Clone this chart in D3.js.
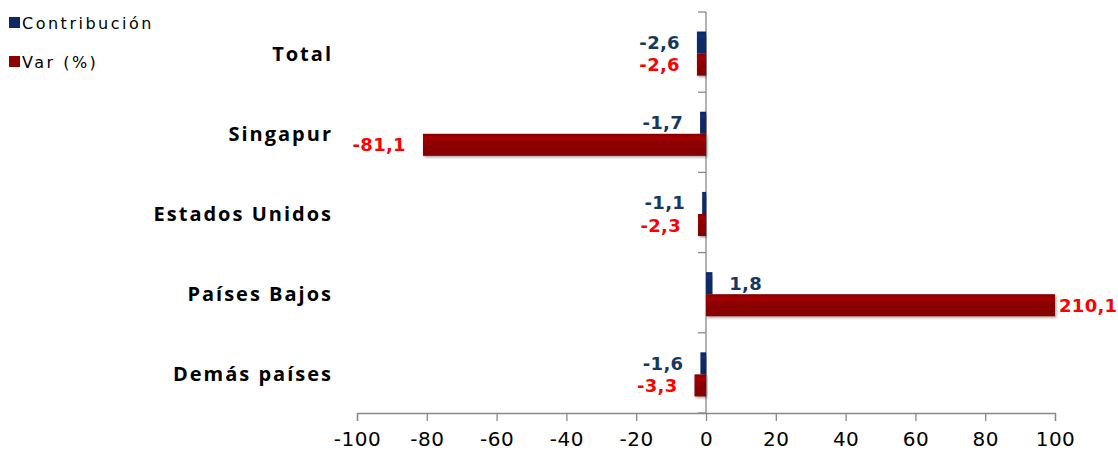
<!DOCTYPE html>
<html><head><meta charset="utf-8">
<script src="https://cdn.jsdelivr.net/npm/d3@7"></script>
<style>body{margin:0;background:#fff}svg{display:block}</style>
</head><body><svg id="c" width="1118" height="454"></svg>
<script>
const categories = ["Total","Singapur","Estados Unidos","Países Bajos","Demás países"];
const contribucion = [-2.6,-1.7,-1.1,1.8,-1.6];
const variacion = [-2.6,-81.1,-2.3,210.1,-3.3];
const seriesNames = ["Contribución","Var (%)"];
const tickValues = [-100,-80,-60,-40,-20,0,20,40,60,80,100];

const colors = {"Contribución":"#0d2a66","Var (%)":"#8c0000"};
const labelColors = {"Contribución":"#17375e","Var (%)":"#ff0000"};

const svg = d3.select("#c");
const defs = svg.append("defs");
function grad(id, c){
  const g = defs.append("linearGradient").attr("id",id).attr("x1",0).attr("y1",0).attr("x2",0).attr("y2",1);
  const base = d3.color(c);
  g.append("stop").attr("offset","0%").attr("stop-color",base.darker(0.3));
  g.append("stop").attr("offset","18%").attr("stop-color",base.brighter(0.5));
  g.append("stop").attr("offset","40%").attr("stop-color",base);
  g.append("stop").attr("offset","100%").attr("stop-color",base.darker(0.1));
}
grad("g0",colors["Contribución"]);
grad("g1",colors["Var (%)"]);
const f = defs.append("filter").attr("id","sh").attr("x","-5%").attr("y","-20%").attr("width","115%").attr("height","160%");
f.append("feDropShadow").attr("dx",1.5).attr("dy",1.5).attr("stdDeviation",1).attr("flood-color","#000").attr("flood-opacity",0.35);

const x = d3.scaleLinear().domain([-100,100]).range([357,1055]).clamp(true);
const y = d3.scaleBand().domain(categories).range([12,413]).paddingInner(0.45).paddingOuter(0.225);
const ys = d3.scaleBand().domain(seriesNames).range([0,y.bandwidth()]);
const yOff = 1.5;

// x axis
const xAxis = d3.axisBottom(x).tickValues(tickValues).tickSize(8).tickFormat(d=>d);
const gx = svg.append("g").attr("transform","translate(0,413)").call(xAxis);
gx.select(".domain").attr("stroke","#888").attr("stroke-width",1.3);
gx.selectAll(".tick line").attr("stroke","#888").attr("stroke-width",1.3);
gx.selectAll(".tick text").attr("font-family","DejaVu Sans").attr("font-size",20).attr("fill","#000").attr("dy","1.1em").attr("letter-spacing","0.5px");

// y axis at zero
const yBounds = d3.range(categories.length+1).map(i=>12 + i*y.step());
const ga = svg.append("g");
ga.append("line").attr("x1",x(0)).attr("x2",x(0)).attr("y1",12).attr("y2",413).attr("stroke","#888").attr("stroke-width",1.3);
ga.selectAll("line.t").data(yBounds).join("line").attr("class","t")
  .attr("x1",x(0)-8).attr("x2",x(0)).attr("y1",d=>d).attr("y2",d=>d).attr("stroke","#888").attr("stroke-width",1.3);

// category labels
svg.append("g").selectAll("text").data(categories).join("text")
  .attr("x",333).attr("y",d=>y(d)+y.bandwidth()/2 + 1)
  .attr("text-anchor","end").attr("dominant-baseline","central")
  .attr("font-family","Open Sans").attr("font-weight","bold").attr("font-size",20).attr("letter-spacing","2px")
  .attr("fill","#000").text(d=>d);

// bars
const data = [];
categories.forEach((c,i)=>{
  data.push({cat:c, s:"Contribución", v:contribucion[i], gid:"g0"});
  data.push({cat:c, s:"Var (%)", v:variacion[i], gid:"g1"});
});
const bars = svg.append("g");
bars.selectAll("rect").data(data).join("rect")
  .attr("x",d=>Math.min(x(0),x(d.v)))
  .attr("width",d=>Math.abs(x(d.v)-x(0)))
  .attr("y",d=>y(d.cat)+ys(d.s)+yOff)
  .attr("height",ys.bandwidth())
  .attr("fill",d=>`url(#${d.gid})`)
  .attr("filter","url(#sh)");

// value labels
const fmt = v => d3.format(".1f")(v).replace(".",",").replace("−","-");
svg.append("g").selectAll("text").data(data).join("text")
  .attr("x",d=>{
    const clipped = d.v>100 || d.v<-100;
    const gap = clipped?4:17;
    return d.v<0 ? x(d.v)-gap : x(d.v)+gap;
  })
  .attr("y",d=>y(d.cat)+ys(d.s)+ys.bandwidth()/2+yOff)
  .attr("text-anchor",d=>d.v<0?"end":"start")
  .attr("dominant-baseline","central")
  .attr("font-family","DejaVu Sans").attr("font-weight","bold").attr("font-size",18).attr("letter-spacing","0.3px")
  .attr("fill",d=>labelColors[d.s]).text(d=>fmt(d.v));

// legend
const lg = svg.append("g");
seriesNames.forEach((s,i)=>{
  const yy = 23 + i*39;
  lg.append("rect").attr("x",9).attr("y",yy-6).attr("width",11).attr("height",11).attr("fill",colors[s]);
  lg.append("text").attr("x",22).attr("y",yy).attr("dominant-baseline","central")
    .attr("font-family","DejaVu Sans").attr("font-size",16).attr("letter-spacing","2.5px").attr("fill","#000").text(s);
});
</script></body></html>
